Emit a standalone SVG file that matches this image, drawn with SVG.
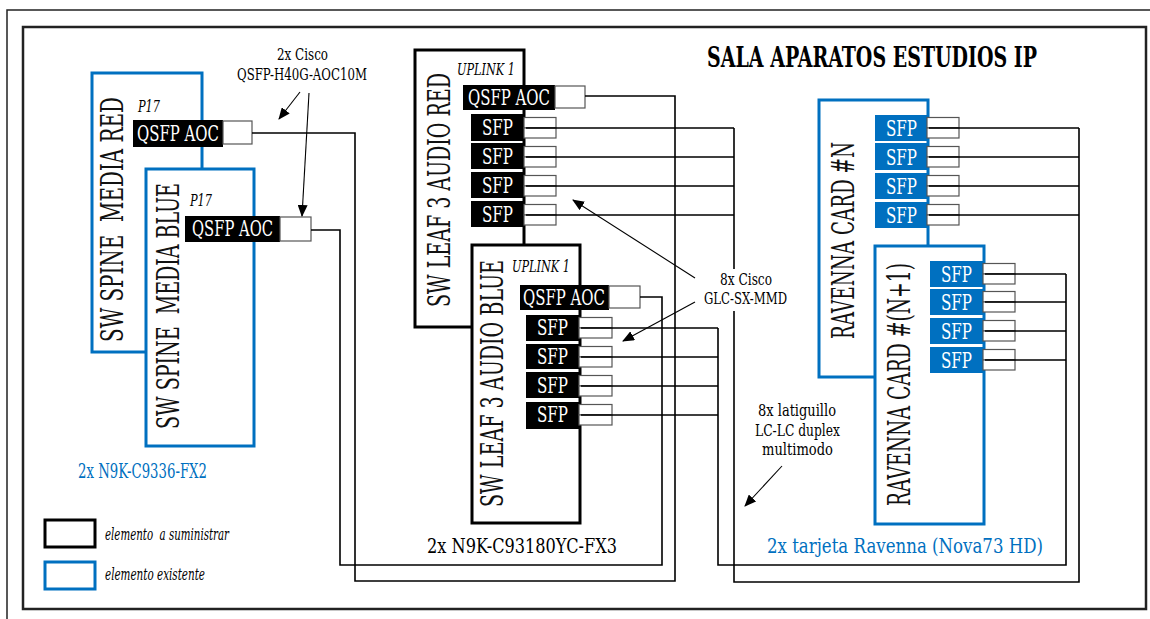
<svg xmlns="http://www.w3.org/2000/svg" width="1150" height="619" viewBox="0 0 1150 619">
<style>
.t{font-family:"DejaVu Serif Condensed","DejaVu Serif","Liberation Serif",serif;}
.blk{fill:#fff;stroke:#000;stroke-width:3}
.blu{fill:#fff;stroke:#0070C0;stroke-width:3}
.lb{fill:#000}
.lbu{fill:#0070C0}
.plug{fill:#fff;stroke:#555;stroke-width:1.2}
.wire{fill:none;stroke:#000;stroke-width:1.6}
.arr{fill:none;stroke:#000;stroke-width:1.1;marker-end:url(#ah)}
.pt{fill:#fff;font-size:22px}
.vt{fill:#111;font-size:31px}
.it{font-style:italic;font-size:16px;fill:#000}
.note{font-size:17px;fill:#000}
.bluetxt{font-size:21px;fill:#0070C0}
</style>
<defs>
<marker id="ah" viewBox="0 0 12 10" refX="11" refY="5" markerWidth="12" markerHeight="10" markerUnits="userSpaceOnUse" orient="auto">
<path d="M0,0 L12,5 L0,10 z" fill="#000"/>
</marker>
</defs>
<rect width="1150" height="619" fill="#fff"/>
<g id="frame">
<rect x="7" y="10" width="1160" height="630" fill="none" stroke="#222" stroke-width="1.5"/>
<rect x="23" y="27" width="1123" height="582" fill="none" stroke="#222" stroke-width="2.5"/>
</g>
<g id="title"><text class="t" x="707" y="67" font-size="27" font-weight="bold" textLength="330" lengthAdjust="spacingAndGlyphs">SALA APARATOS ESTUDIOS IP</text></g>

<g id="spine-red">
<rect class="blu" x="92" y="73" width="110" height="279"/>
<text class="t vt" xml:space="preserve" transform="translate(123,342) rotate(-90)" textLength="245" lengthAdjust="spacingAndGlyphs">SW SPINE  MEDIA RED</text>
<text class="t it" x="138" y="112" textLength="22" lengthAdjust="spacingAndGlyphs">P17</text>
<rect class="lb" x="133" y="120" width="90" height="27"/>
<text class="t pt" x="137" y="141" textLength="82" lengthAdjust="spacingAndGlyphs">QSFP AOC</text>
<rect class="plug" x="223" y="121" width="29" height="23"/>
</g>

<g id="spine-blue">
<rect class="blu" x="146" y="169" width="108" height="277"/>
<text class="t vt" xml:space="preserve" transform="translate(179,429) rotate(-90)" textLength="246" lengthAdjust="spacingAndGlyphs">SW SPINE  MEDIA BLUE</text>
<text class="t it" x="190" y="206" textLength="22" lengthAdjust="spacingAndGlyphs">P17</text>
<rect class="lb" x="185" y="216" width="95" height="26"/>
<text class="t pt" x="192" y="236" textLength="81" lengthAdjust="spacingAndGlyphs">QSFP AOC</text>
<rect class="plug" x="280" y="217" width="31" height="24"/>
</g>

<g id="leaf-red">
<rect class="blk" x="415" y="50" width="109" height="277"/>
<text class="t vt" transform="translate(450,307) rotate(-90)" textLength="234" lengthAdjust="spacingAndGlyphs">SW LEAF 3 AUDIO RED</text>
<text class="t it" x="457" y="75" textLength="58" lengthAdjust="spacingAndGlyphs">UPLINK 1</text>
<rect class="lb" x="463" y="85" width="92" height="25"/>
<text class="t pt" x="468" y="105" textLength="82" lengthAdjust="spacingAndGlyphs">QSFP AOC</text>
<rect class="plug" x="555" y="86" width="30" height="22"/>
<rect class="lb" x="471" y="114" width="53" height="27"/>
<rect class="lb" x="471" y="143" width="53" height="26"/>
<rect class="lb" x="471" y="172" width="53" height="26"/>
<rect class="lb" x="471" y="201" width="53" height="26"/>
<text class="t pt" x="482" y="135" textLength="31" lengthAdjust="spacingAndGlyphs">SFP</text>
<text class="t pt" x="482" y="164" textLength="31" lengthAdjust="spacingAndGlyphs">SFP</text>
<text class="t pt" x="482" y="193" textLength="31" lengthAdjust="spacingAndGlyphs">SFP</text>
<text class="t pt" x="482" y="222" textLength="31" lengthAdjust="spacingAndGlyphs">SFP</text>
<rect class="plug" x="524" y="117.5" width="32" height="10.5"/><rect class="plug" x="524" y="128" width="32" height="10"/>
<rect class="plug" x="524" y="146.5" width="32" height="10.5"/><rect class="plug" x="524" y="157" width="32" height="10"/>
<rect class="plug" x="524" y="175.5" width="32" height="10.5"/><rect class="plug" x="524" y="186" width="32" height="10"/>
<rect class="plug" x="524" y="204.5" width="32" height="10.5"/><rect class="plug" x="524" y="215" width="32" height="10"/>
</g>

<g id="leaf-blue">
<rect class="blk" x="472" y="245" width="108" height="278"/>
<text class="t vt" transform="translate(503,507) rotate(-90)" textLength="247" lengthAdjust="spacingAndGlyphs">SW LEAF 3 AUDIO BLUE</text>
<text class="t it" x="512" y="272" textLength="58" lengthAdjust="spacingAndGlyphs">UPLINK 1</text>
<rect class="lb" x="520" y="285" width="89" height="25"/>
<text class="t pt" x="523" y="305" textLength="82" lengthAdjust="spacingAndGlyphs">QSFP AOC</text>
<rect class="plug" x="609" y="286" width="31" height="22"/>
<rect class="lb" x="526" y="315" width="53" height="26"/>
<rect class="lb" x="526" y="344" width="53" height="25"/>
<rect class="lb" x="526" y="372" width="53" height="26"/>
<rect class="lb" x="526" y="402" width="53" height="27"/>
<text class="t pt" x="537" y="335" textLength="31" lengthAdjust="spacingAndGlyphs">SFP</text>
<text class="t pt" x="537" y="364" textLength="31" lengthAdjust="spacingAndGlyphs">SFP</text>
<text class="t pt" x="537" y="393" textLength="31" lengthAdjust="spacingAndGlyphs">SFP</text>
<text class="t pt" x="537" y="422" textLength="31" lengthAdjust="spacingAndGlyphs">SFP</text>
<rect class="plug" x="579" y="317.5" width="33" height="10.5"/><rect class="plug" x="579" y="328" width="33" height="10"/>
<rect class="plug" x="579" y="346.5" width="33" height="10.5"/><rect class="plug" x="579" y="357" width="33" height="10"/>
<rect class="plug" x="579" y="375.5" width="33" height="10.5"/><rect class="plug" x="579" y="386" width="33" height="10"/>
<rect class="plug" x="579" y="404.5" width="33" height="10.5"/><rect class="plug" x="579" y="415" width="33" height="10"/>
</g>

<g id="ravenna-n">
<rect class="blu" x="819" y="100" width="109" height="277"/>
<text class="t vt" transform="translate(854,339) rotate(-90)" textLength="197" lengthAdjust="spacingAndGlyphs">RAVENNA CARD #N</text>
<rect class="lbu" x="875" y="115" width="52" height="26"/>
<rect class="lbu" x="875" y="143" width="52" height="27"/>
<rect class="lbu" x="875" y="173" width="52" height="26"/>
<rect class="lbu" x="875" y="202" width="52" height="26"/>
<text class="t pt" x="886" y="136" textLength="31" lengthAdjust="spacingAndGlyphs">SFP</text>
<text class="t pt" x="886" y="165" textLength="31" lengthAdjust="spacingAndGlyphs">SFP</text>
<text class="t pt" x="886" y="194" textLength="31" lengthAdjust="spacingAndGlyphs">SFP</text>
<text class="t pt" x="886" y="223" textLength="31" lengthAdjust="spacingAndGlyphs">SFP</text>
<rect class="plug" x="927" y="117.5" width="32" height="10.5"/><rect class="plug" x="927" y="128" width="32" height="10"/>
<rect class="plug" x="927" y="146.5" width="32" height="10.5"/><rect class="plug" x="927" y="157" width="32" height="10"/>
<rect class="plug" x="927" y="175.5" width="32" height="10.5"/><rect class="plug" x="927" y="186" width="32" height="10"/>
<rect class="plug" x="927" y="204.5" width="32" height="10.5"/><rect class="plug" x="927" y="215" width="32" height="10"/>
</g>

<g id="ravenna-n1">
<rect class="blu" x="875" y="246" width="109" height="278"/>
<text class="t vt" transform="translate(910,506) rotate(-90)" textLength="243" lengthAdjust="spacingAndGlyphs">RAVENNA CARD #(N+1)</text>
<rect class="lbu" x="930" y="261" width="53" height="26"/>
<rect class="lbu" x="930" y="289" width="53" height="26"/>
<rect class="lbu" x="930" y="318" width="53" height="26"/>
<rect class="lbu" x="930" y="347" width="53" height="26"/>
<text class="t pt" x="941" y="282" textLength="31" lengthAdjust="spacingAndGlyphs">SFP</text>
<text class="t pt" x="941" y="310" textLength="31" lengthAdjust="spacingAndGlyphs">SFP</text>
<text class="t pt" x="941" y="339" textLength="31" lengthAdjust="spacingAndGlyphs">SFP</text>
<text class="t pt" x="941" y="368" textLength="31" lengthAdjust="spacingAndGlyphs">SFP</text>
<rect class="plug" x="983" y="263.5" width="32" height="10.5"/><rect class="plug" x="983" y="274" width="32" height="10"/>
<rect class="plug" x="983" y="291.5" width="32" height="10.5"/><rect class="plug" x="983" y="302" width="32" height="10"/>
<rect class="plug" x="983" y="320.5" width="32" height="10.5"/><rect class="plug" x="983" y="331" width="32" height="10"/>
<rect class="plug" x="983" y="349.5" width="32" height="10.5"/><rect class="plug" x="983" y="360" width="32" height="10"/>
</g>

<g id="connectors">
<path class="wire" d="M252,133 H355 V581 H675 V96 H585"/>
<path class="wire" d="M311,230 H340 V565 H662 V297 H640"/>
<path class="wire" d="M526,128 H734 M526,157 H734 M526,186 H734 M526,215 H734 M734,128 V582 H1079 V128 M929,128 H1079 M929,157 H1079 M929,186 H1079 M929,215 H1079"/>
<path class="wire" d="M581,328 H718 M581,357 H718 M581,386 H718 M581,415 H718 M718,328 V565 H1066 V274 M985,274 H1066 M985,302 H1066 M985,331 H1066 M985,360 H1066"/>
<path class="arr" d="M300,92 L279,119"/>
<path class="arr" d="M309,93 L302,216"/>
<path class="arr" d="M695,278 L573,200"/>
<path class="arr" d="M695,302 L623,341"/>
<path class="arr" d="M782,466 L745,506"/>
</g>

<g id="labels">
<text class="t note" x="302.5" y="60" text-anchor="middle" textLength="51" lengthAdjust="spacingAndGlyphs">2x Cisco</text>
<text class="t note" x="302" y="80" text-anchor="middle" textLength="130" lengthAdjust="spacingAndGlyphs">QSFP-H40G-AOC10M</text>
<rect x="700" y="269" width="90" height="42" fill="#fff"/>
<text class="t note" x="746" y="285" text-anchor="middle" textLength="52" lengthAdjust="spacingAndGlyphs">8x Cisco</text>
<text class="t note" x="745.5" y="304" text-anchor="middle" textLength="83" lengthAdjust="spacingAndGlyphs">GLC-SX-MMD</text>
<text class="t note" x="797" y="416" text-anchor="middle" textLength="78" lengthAdjust="spacingAndGlyphs">8x latiguillo</text>
<text class="t note" x="797.5" y="436" text-anchor="middle" textLength="85" lengthAdjust="spacingAndGlyphs">LC-LC duplex</text>
<text class="t note" x="797.5" y="455" text-anchor="middle" textLength="71" lengthAdjust="spacingAndGlyphs">multimodo</text>
<text class="t bluetxt" x="78" y="478" textLength="129" lengthAdjust="spacingAndGlyphs">2x N9K-C9336-FX2</text>
<text class="t" x="427" y="553" font-size="21" fill="#000" textLength="190" lengthAdjust="spacingAndGlyphs">2x N9K-C93180YC-FX3</text>
<text class="t bluetxt" x="767" y="553" textLength="276" lengthAdjust="spacingAndGlyphs">2x tarjeta Ravenna (Nova73 HD)</text>
</g>

<g id="legend">
<rect x="45" y="520" width="50" height="27" fill="#fff" stroke="#000" stroke-width="3"/>
<text class="t it" xml:space="preserve" x="105" y="540" font-size="17" textLength="124" lengthAdjust="spacingAndGlyphs">elemento  a suministrar</text>
<rect x="45" y="562" width="50" height="27" fill="#fff" stroke="#0070C0" stroke-width="3"/>
<text class="t it" x="105" y="580" font-size="17" textLength="100" lengthAdjust="spacingAndGlyphs">elemento existente</text>
</g>
</svg>
